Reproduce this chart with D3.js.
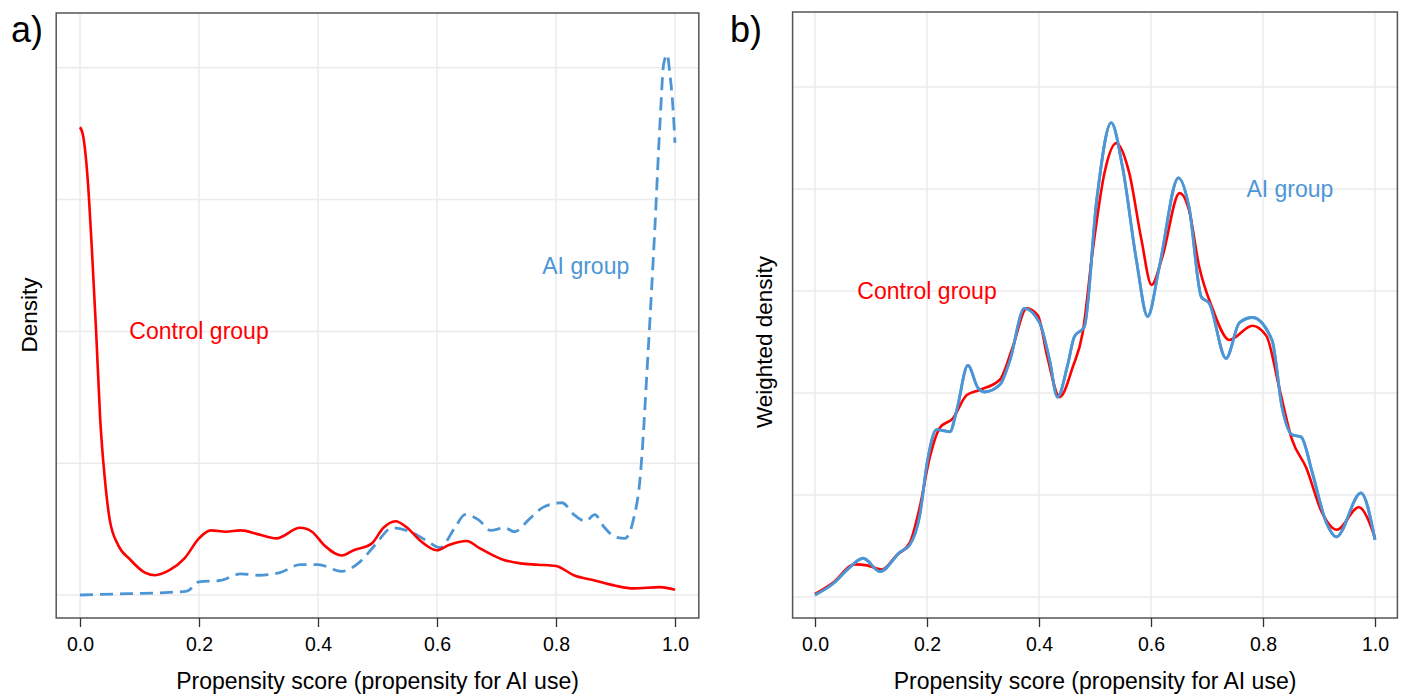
<!DOCTYPE html>
<html>
<head>
<meta charset="utf-8">
<script src="https://cdn.jsdelivr.net/npm/d3@7"></script>
<style>
  body { margin: 0; background: #fff; }
  svg text { font-family: "Liberation Sans", Arial, sans-serif; }
</style>
</head>
<body>
<div id="chart"></div>
<script>
// x ticks shared by both panels
const xTicks = [0, 0.2, 0.4, 0.6, 0.8, 1.0];
const gridA = [0, 1, 2, 3, 4];
const gridB = [0, 1, 2, 3, 4, 5];

// panel a) unweighted densities  [propensity, density]
const controlA = [
  [0, 3.55], [0.005, 3.49], [0.013, 3.15], [0.02, 2.62], [0.027, 2.01], [0.034, 1.33],
  [0.042, 0.87], [0.05, 0.57], [0.064, 0.38], [0.084, 0.27], [0.109, 0.17], [0.126, 0.15],
  [0.151, 0.19], [0.176, 0.28], [0.2, 0.43], [0.22, 0.49], [0.245, 0.48], [0.27, 0.49],
  [0.3, 0.46], [0.33, 0.43], [0.37, 0.51], [0.39, 0.48], [0.41, 0.38], [0.44, 0.3],
  [0.46, 0.34], [0.49, 0.39], [0.51, 0.51], [0.53, 0.56], [0.55, 0.51], [0.57, 0.42],
  [0.6, 0.34], [0.62, 0.38], [0.65, 0.41], [0.67, 0.36], [0.71, 0.27], [0.74, 0.24],
  [0.77, 0.23], [0.8, 0.22], [0.83, 0.15], [0.865, 0.11], [0.9, 0.07], [0.93, 0.05],
  [0.975, 0.06], [1.0, 0.04]
];
const aiA = [
  [0, 0.0], [0.08, 0.01], [0.15, 0.02], [0.18, 0.03], [0.2, 0.1], [0.235, 0.11],
  [0.27, 0.16], [0.3, 0.15], [0.336, 0.17], [0.37, 0.23], [0.4, 0.23], [0.44, 0.18],
  [0.47, 0.25], [0.496, 0.38], [0.525, 0.51], [0.555, 0.48], [0.58, 0.42], [0.605, 0.36],
  [0.63, 0.51], [0.647, 0.61], [0.67, 0.57], [0.69, 0.49], [0.714, 0.51], [0.73, 0.48],
  [0.756, 0.58], [0.78, 0.67], [0.81, 0.7], [0.83, 0.61], [0.85, 0.56], [0.865, 0.61],
  [0.88, 0.52], [0.9, 0.44], [0.916, 0.43], [0.93, 0.57], [0.941, 0.87], [0.955, 1.86],
  [0.966, 2.77], [0.975, 3.6], [0.981, 4.03], [0.987, 4.1], [0.991, 3.97], [0.997, 3.67],
  [1.0, 3.43]
];

// panel b) weighted densities
const controlB = [
  [0, 0.03], [0.032, 0.14], [0.071, 0.32], [0.093, 0.31], [0.119, 0.27], [0.146, 0.41],
  [0.169, 0.53], [0.187, 0.88], [0.205, 1.37], [0.223, 1.66], [0.246, 1.75], [0.271, 1.98],
  [0.294, 2.03], [0.33, 2.13], [0.353, 2.45], [0.378, 2.83], [0.398, 2.76], [0.415, 2.35],
  [0.437, 1.96], [0.46, 2.25], [0.478, 2.59], [0.496, 3.4], [0.517, 4.16], [0.538, 4.45],
  [0.561, 4.16], [0.583, 3.5], [0.601, 3.06], [0.62, 3.33], [0.651, 3.96], [0.668, 3.79],
  [0.686, 3.24], [0.709, 2.84], [0.74, 2.52], [0.781, 2.66], [0.806, 2.56], [0.829, 2.05],
  [0.852, 1.54], [0.877, 1.27], [0.906, 0.82], [0.932, 0.66], [0.971, 0.88], [1.0, 0.58]
];
const aiB = [
  [0, 0.02], [0.032, 0.13], [0.06, 0.28], [0.086, 0.38], [0.116, 0.25], [0.152, 0.44],
  [0.169, 0.51], [0.187, 0.8], [0.201, 1.34], [0.217, 1.64], [0.241, 1.62], [0.253, 1.83],
  [0.273, 2.27], [0.291, 2.05], [0.303, 2.01], [0.33, 2.08], [0.348, 2.32], [0.374, 2.83],
  [0.401, 2.69], [0.419, 2.32], [0.433, 1.96], [0.451, 2.27], [0.463, 2.55], [0.481, 2.65],
  [0.503, 3.89], [0.529, 4.65], [0.549, 4.22], [0.574, 3.3], [0.594, 2.75], [0.615, 3.24],
  [0.649, 4.11], [0.668, 3.82], [0.69, 2.94], [0.704, 2.88], [0.734, 2.34], [0.758, 2.69],
  [0.781, 2.74], [0.816, 2.52], [0.834, 1.86], [0.852, 1.59], [0.868, 1.57], [0.888, 1.22],
  [0.913, 0.73], [0.931, 0.59], [0.975, 1.02], [1.0, 0.56]
];

const red = "#ff0000";
const blue = "#4d96d6";

const svg = d3.select("#chart").append("svg")
  .attr("width", 1406).attr("height", 697);

function drawPanel(p) {
  const x = d3.scaleLinear().domain([0, 1]).range([p.x0, p.x1]);
  const y = d3.scaleLinear().domain([0, p.grid[p.grid.length - 1]]).range([p.y0, p.yTop]);
  const left = x(-0.04), right = x(1.04);
  const g = svg.append("g");

  // gridlines
  g.append("g").selectAll("line.v").data(xTicks).enter().append("line")
    .attr("x1", d => x(d)).attr("x2", d => x(d))
    .attr("y1", p.boxTop).attr("y2", p.boxBottom)
    .attr("stroke", "#ebebeb").attr("stroke-width", 1.5);
  g.append("g").selectAll("line.h").data(p.grid).enter().append("line")
    .attr("x1", left).attr("x2", right)
    .attr("y1", d => y(d)).attr("y2", d => y(d))
    .attr("stroke", "#ebebeb").attr("stroke-width", 1.5);

  const line = d3.line().x(d => x(d[0])).y(d => y(d[1])).curve(d3.curveMonotoneX);

  g.append("path").datum(p.ai)
    .attr("d", line).attr("fill", "none")
    .attr("stroke", blue).attr("stroke-width", 2.8)
    .attr("stroke-dasharray", p.dashed ? "13,7" : null);
  g.append("path").datum(p.control)
    .attr("d", line).attr("fill", "none")
    .attr("stroke", red).attr("stroke-width", 2.6);
  if (!p.dashed) {
    // in panel b the blue line sits on top
    g.append("path").datum(p.ai)
      .attr("d", line).attr("fill", "none")
      .attr("stroke", blue).attr("stroke-width", 2.8);
  }

  // box
  g.append("rect")
    .attr("x", left).attr("y", p.boxTop)
    .attr("width", right - left).attr("height", p.boxBottom - p.boxTop)
    .attr("fill", "none").attr("stroke", "#555").attr("stroke-width", 1.5);

  // x axis
  const axis = g.append("g")
    .attr("transform", `translate(0,${p.boxBottom})`)
    .call(d3.axisBottom(x).tickValues(xTicks).tickFormat(d3.format(".1f")).tickSize(9).tickPadding(10));
  axis.select(".domain").remove();
  axis.selectAll(".tick line").attr("stroke", "#333").attr("stroke-width", 1.3);
  axis.selectAll(".tick text").attr("font-size", 19.5).attr("fill", "#000")
    .attr("font-family", "Liberation Sans, Arial, sans-serif");

  g.append("text")
    .attr("x", (x(0) + x(1)) / 2).attr("y", 689)
    .attr("text-anchor", "middle").attr("font-size", 23)
    .text("Propensity score (propensity for AI use)");

  g.append("text")
    .attr("transform", `translate(${p.yLabelX},${p.yLabelY}) rotate(-90)`)
    .attr("text-anchor", "middle").attr("dy", "0.35em").attr("font-size", 22.5)
    .text(p.yLabel);

  g.append("text")
    .attr("x", p.tagX).attr("y", 42).attr("font-size", 36)
    .text(p.tag);

  g.append("text")
    .attr("x", x(p.controlLabel[0])).attr("y", y(p.controlLabel[1]))
    .attr("text-anchor", "middle").attr("dy", "0.35em").attr("font-size", 23)
    .attr("fill", red).text("Control group");
  g.append("text")
    .attr("x", x(p.aiLabel[0])).attr("y", y(p.aiLabel[1]))
    .attr("text-anchor", "middle").attr("dy", "0.35em").attr("font-size", 23)
    .attr("fill", blue).text("AI group");
}

drawPanel({
  x0: 80, x1: 675, y0: 595, yTop: 67.8, grid: gridA,
  boxTop: 13, boxBottom: 618,
  control: controlA, ai: aiA, dashed: true,
  yLabel: "Density", yLabelX: 29, yLabelY: 315,
  tag: "a)", tagX: 11,
  controlLabel: [0.2, 2], aiLabel: [0.85, 2.5]
});

drawPanel({
  x0: 815, x1: 1375, y0: 597, yTop: 87, grid: gridB,
  boxTop: 12, boxBottom: 618,
  control: controlB, ai: aiB, dashed: false,
  yLabel: "Weighted density", yLabelX: 764, yLabelY: 342,
  tag: "b)", tagX: 730,
  controlLabel: [0.2, 3], aiLabel: [0.848, 4]
});
</script>
</body>
</html>
